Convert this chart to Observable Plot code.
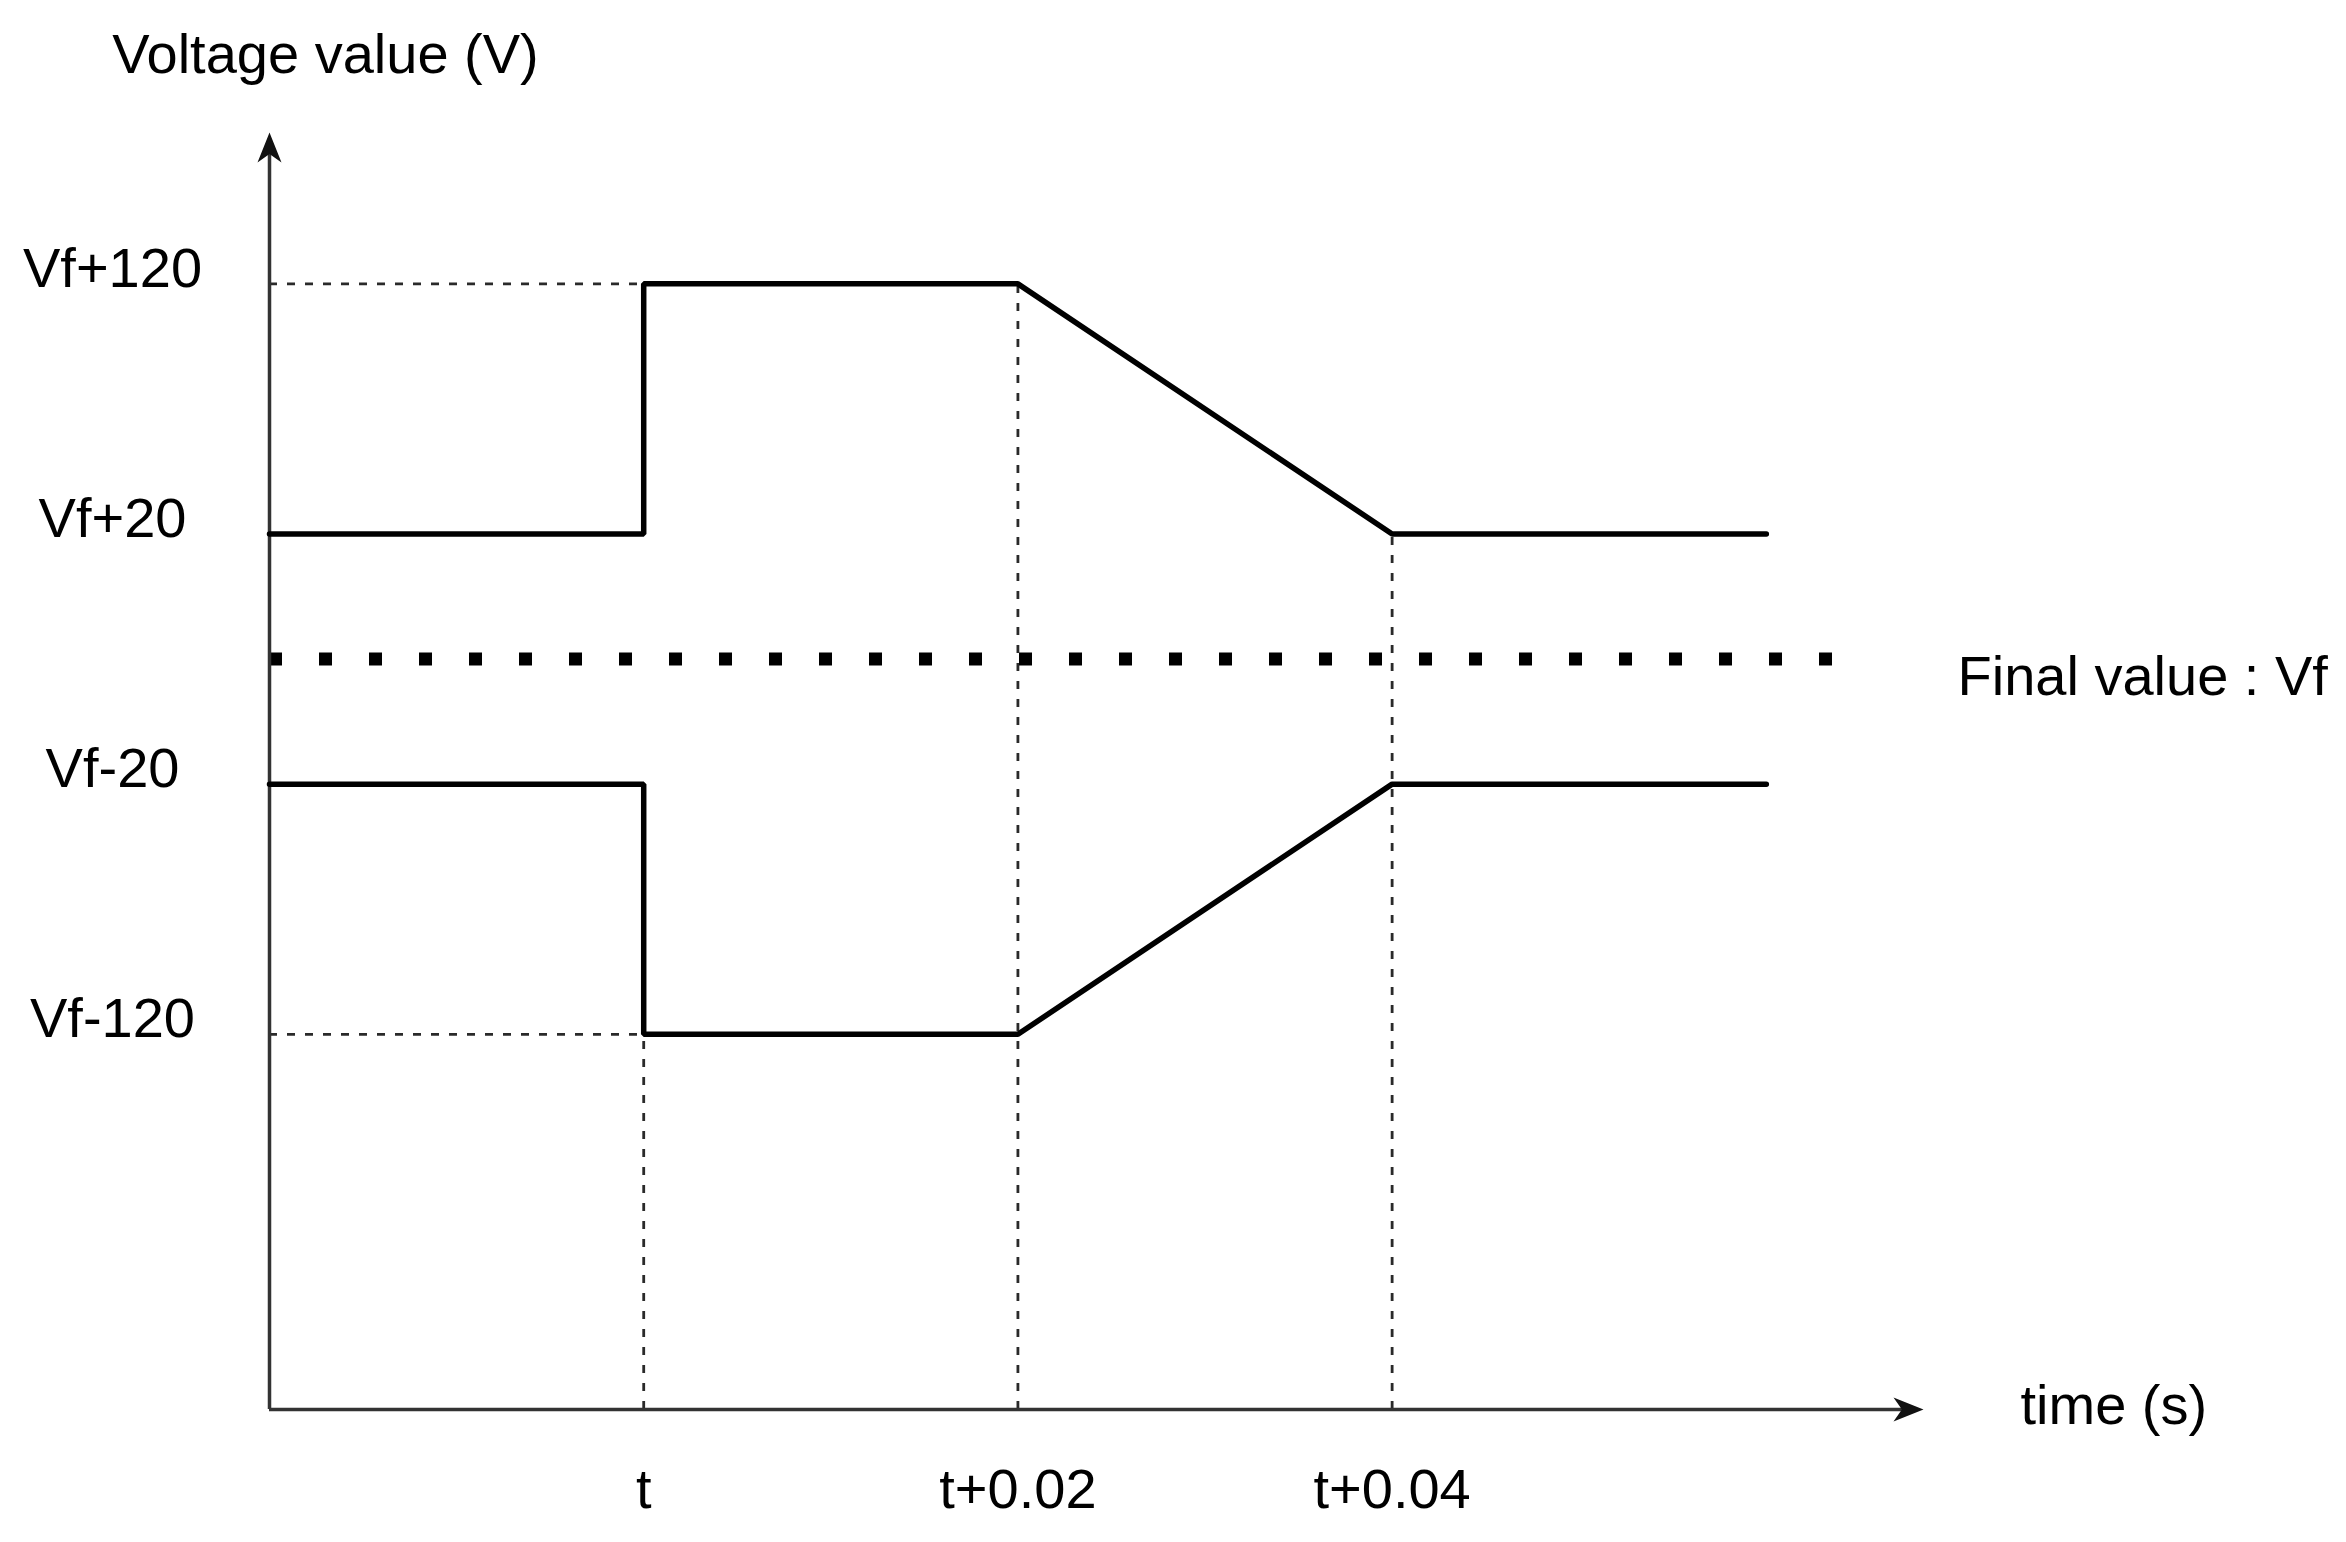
<!DOCTYPE html>
<html>
<head>
<meta charset="utf-8">
<script src="https://cdn.jsdelivr.net/npm/d3@7"></script>
<script src="https://cdn.jsdelivr.net/npm/@observablehq/plot@0.6"></script>
<style>
  html, body { margin: 0; padding: 0; background: #fff; }
  #chart svg { display: block; }
</style>
</head>
<body>
<div id="chart"></div>
<script>
// ---- data (schematic: y in "level" units, Vf = 0) ----
const envTime      = [-0.02, 0, 0, 0.02, 0.04, 0.06];   // time offsets from t (s)
const upperLevel   = [1, 1, 3, 3, 1, 1];                // Vf+20 -> Vf+120 -> ramp -> Vf+20
const lowerLevel   = [-1, -1, -3, -3, -1, -1];          // Vf-20 -> Vf-120 -> ramp -> Vf-20

const yTickValues  = [3, 1, -1, -3];
const yTickLabels  = ["Vf+120", "Vf+20", "Vf-20", "Vf-120"];
const xTickValues  = [0, 0.02, 0.04];
const xTickLabels  = ["t", "t+0.02", "t+0.04"];

const guideHLevel  = [3, -3];          // horizontal dashed guides (from axis to t)
const guideHEnd    = [0, 0];
const guideVTime   = [0, 0.02, 0.04];  // vertical dashed guides (from time axis up)
const guideVTop    = [-3, 3, 1];

const finalLevel   = 0;                // Vf
const finalLabel   = "Final value : Vf";
const yAxisLabel   = "Voltage value (V)";
const xAxisLabel   = "time (s)";

const xMin = -0.02, xMax = 0.0684, dotEnd = 0.0636;
const yMin = -6, yMax = 4.21;

// ---- tables ----
const upper = envTime.map((x, i) => ({x, y: upperLevel[i]}));
const lower = envTime.map((x, i) => ({x, y: lowerLevel[i]}));
const hGuides = guideHLevel.map((y, i) => ({y, x2: guideHEnd[i]}));
const vGuides = guideVTime.map((x, i) => ({x, y2: guideVTop[i]}));

const arrowHead = {
  draw(ctx, size) {
    const L = Math.sqrt(size / Math.PI);
    const w = L * 0.4;
    ctx.moveTo(0, 0);
    ctx.lineTo(w, L);
    ctx.lineTo(0, L * 0.72);
    ctx.lineTo(-w, L);
    ctx.closePath();
  }
};

const font = "Liberation Sans, Arial, Helvetica, sans-serif";
const guideStyle = {stroke: "#2a2a2a", strokeWidth: 2.8, strokeDasharray: "8,10"};

const chart = Plot.plot({
  width: 2346,
  height: 1542,
  marginLeft: 269,
  marginRight: 423,
  marginTop: 132,
  marginBottom: 133,
  style: {fontFamily: font, fontSize: "56px", background: "#fff", color: "#000"},
  x: {domain: [xMin, xMax]},
  y: {domain: [yMin, yMax]},
  marks: [
    // dashed guides
    Plot.ruleY(hGuides, {y: "y", x1: xMin, x2: "x2", ...guideStyle}),
    Plot.ruleX(vGuides, {x: "x", y1: yMin, y2: "y2", ...guideStyle}),
    // final value dotted line
    Plot.ruleY([finalLevel], {x1: xMin, x2: dotEnd, stroke: "#000", strokeWidth: 13, strokeDasharray: "13,37"}),
    // axes
    Plot.ruleX([xMin], {y1: yMin, y2: yMax - 0.1, stroke: "#333", strokeWidth: 3.5}),
    Plot.ruleY([yMin], {x1: xMin, x2: xMax - 0.001, stroke: "#333", strokeWidth: 3.5}),
    Plot.dot([{x: xMin, y: yMax}], {x: "x", y: "y", symbol: arrowHead, r: 30, fill: "#111", stroke: "none"}),
    Plot.dot([{x: xMax, y: yMin}], {x: "x", y: "y", symbol: arrowHead, r: 30, rotate: 90, fill: "#111", stroke: "none"}),
    // signal envelopes
    Plot.line(upper, {x: "x", y: "y", stroke: "#000", strokeWidth: 5.5, strokeLinejoin: "miter"}),
    Plot.line(lower, {x: "x", y: "y", stroke: "#000", strokeWidth: 5.5, strokeLinejoin: "miter"}),
    // tick labels
    Plot.axisY({ticks: yTickValues, tickFormat: d => yTickLabels[yTickValues.indexOf(d)],
      tickSize: 0, tickPadding: 157, textAnchor: "middle", dy: -15, fontSize: 56, fontFamily: font, label: null}),
    Plot.axisX({ticks: xTickValues, tickFormat: d => xTickLabels[xTickValues.indexOf(d)],
      tickSize: 0, tickPadding: 59, fontSize: 56, fontFamily: font, label: null}),
    // axis titles and annotation
    Plot.text([yAxisLabel], {x: xMin, y: yMax, text: d => d, textAnchor: "middle", dx: 56, dy: -77, fontSize: 56, fontFamily: font, fill: "#000"}),
    Plot.text([xAxisLabel], {x: xMax, y: yMin, text: d => d, textAnchor: "start", dx: 97, dy: -3, fontSize: 56, fontFamily: font, fill: "#000"}),
    Plot.text([finalLabel], {x: xMax, y: finalLevel, text: d => d, textAnchor: "start", dx: 34, dy: 18, fontSize: 56, fontFamily: font, fill: "#000"})
  ]
});
document.getElementById("chart").appendChild(chart);
</script>
</body>
</html>
